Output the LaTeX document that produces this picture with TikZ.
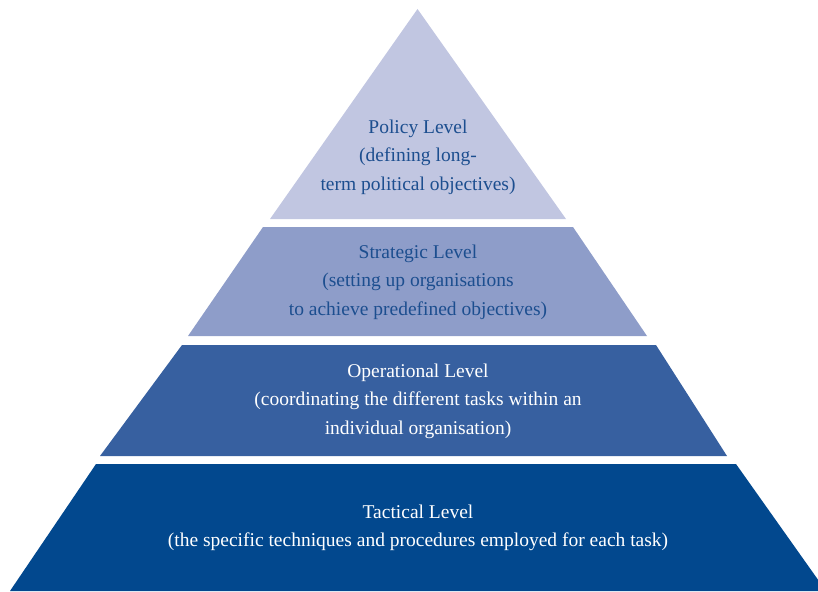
\documentclass[tikz,border=0pt]{standalone}
\usepackage{fontspec}
\setmainfont{Liberation Serif}
\usepackage{xcolor}
\usepackage{tikz}
\usetikzlibrary{positioning}

\definecolor{policyfill}{HTML}{C1C6E1}
\definecolor{strategyfill}{HTML}{8E9DC9}
\definecolor{operationfill}{HTML}{3760A0}
\definecolor{tacticfill}{HTML}{02488E}
\definecolor{textblue}{HTML}{1C4E8F}

\begin{document}
\begin{tikzpicture}[
  x=1pt, y=-1pt,
  lvl/.style={align=center, inner sep=0pt, font=\fontsize{19.5}{28.5}\selectfont},
  darklvl/.style={lvl, text=textblue},
  lightlvl/.style={lvl, text=white}
]
\useasboundingbox (0,0) rectangle (818,591);

% pyramid layers, top to bottom
\fill[policyfill] (417.5,9) -- (566,219) -- (270,219) -- cycle;
\fill[strategyfill] (263,227) -- (573,227) -- (647,336) -- (188,336) -- cycle;
\fill[operationfill] (182,345) -- (656,345) -- (727,456) -- (100,456) -- cycle;
\fill[tacticfill] (96,464) -- (736,464) -- (826,591) -- (10,591) -- cycle;

\node[darklvl] (policy) at (418,157) {Policy Level\\(defining long-\\term political objectives)};
\node[darklvl] (strategic) at (418,282) {Strategic Level\\(setting up organisations\\to achieve predefined objectives)};
\node[lightlvl] (operational) at (418,401) {Operational Level\\(coordinating the different tasks within an\\individual organisation)};
\node[lightlvl] (tactical) at (418,528) {Tactical Level\\(the specific techniques and procedures employed for each task)};
\end{tikzpicture}
\end{document}
